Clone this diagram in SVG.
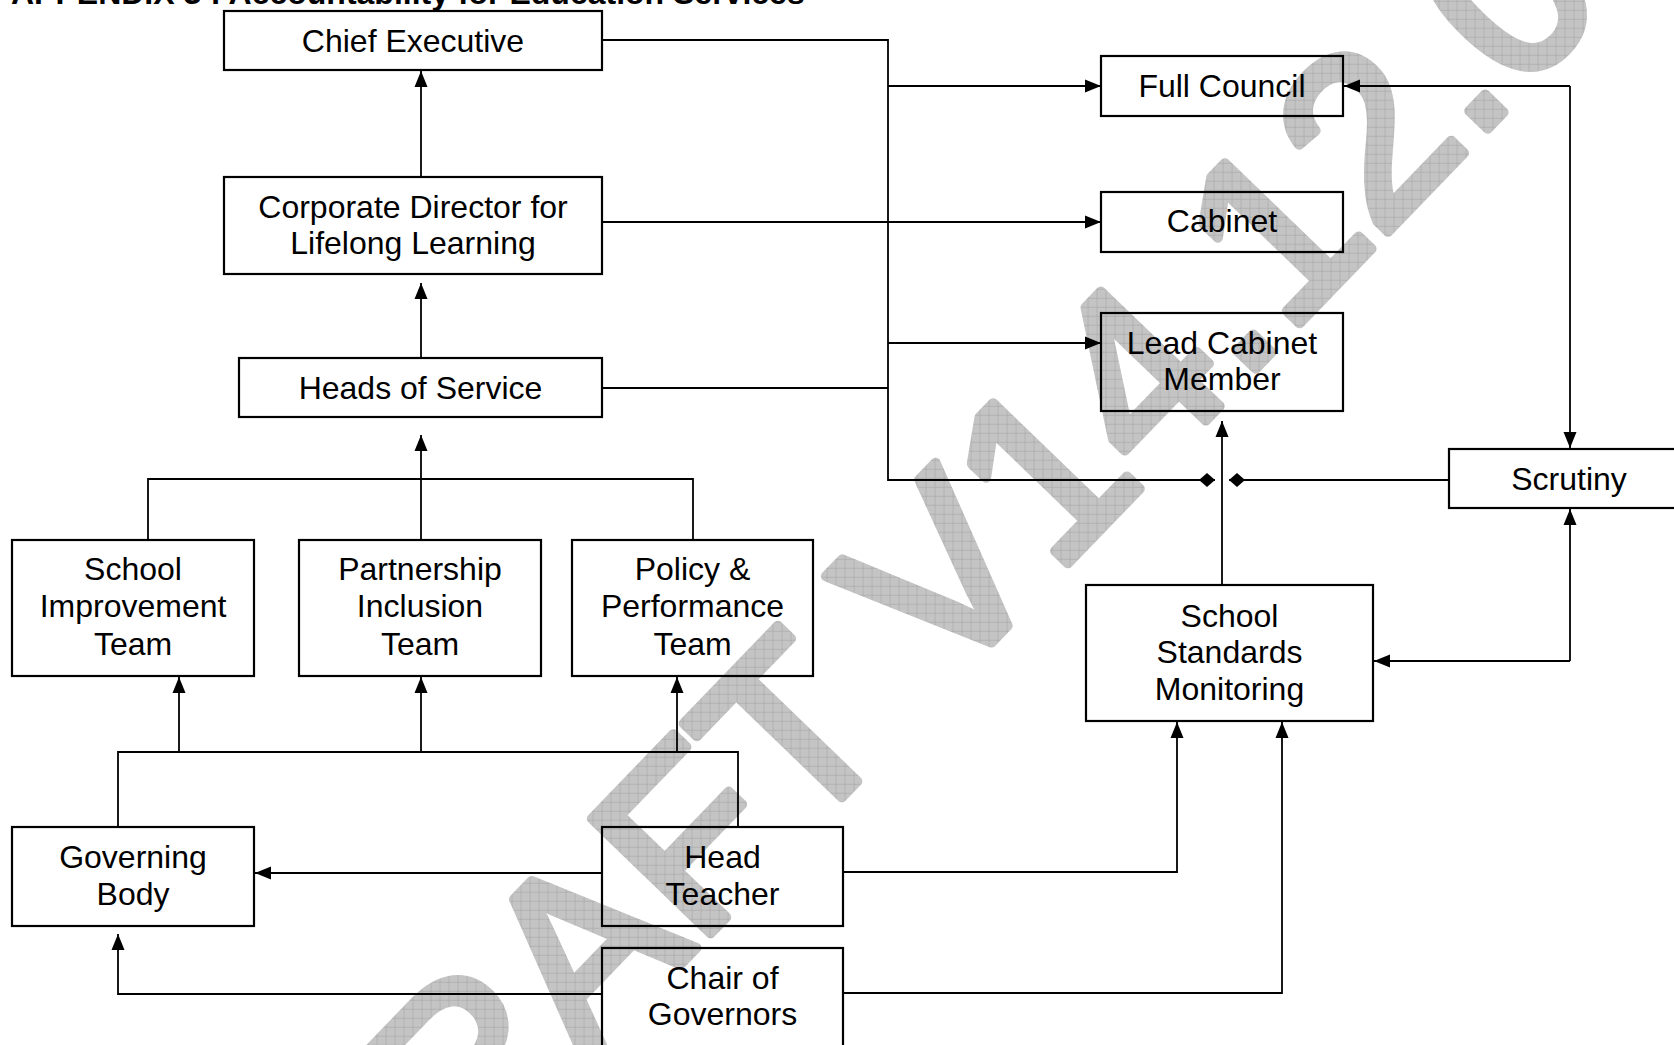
<svg xmlns="http://www.w3.org/2000/svg" width="1674" height="1045" viewBox="0 0 1674 1045">
<style>
.box{fill:none;stroke:#000;stroke-width:2.2}
.t{font-family:"Liberation Sans",Arial,sans-serif;font-size:32px;fill:#000;text-anchor:middle}
.title{font-family:"Liberation Sans",Arial,sans-serif;font-size:32px;font-weight:bold;fill:#000}
.c{fill:none;stroke:#000;stroke-width:1.8}
.wm{font-family:"Liberation Sans",Arial,sans-serif;font-size:240px;fill:url(#grid);stroke:url(#grid);stroke-width:10;stroke-linejoin:round}
</style>
<defs>
<pattern id="grid" patternUnits="userSpaceOnUse" width="9" height="9" patternTransform="rotate(46)">
<rect width="9" height="9" fill="#c4c4c4"/>
<path d="M0 0.3H9M0.3 0V9" stroke="#a2a2a2" stroke-width="0.7"/>
</pattern>
<marker id="arr" markerUnits="userSpaceOnUse" markerWidth="16" markerHeight="14" viewBox="0 0 16 14" refX="16" refY="7" orient="auto">
<path d="M0 0.5L16 7L0 13.5Z" fill="#000"/>
</marker>
<marker id="dia" markerUnits="userSpaceOnUse" markerWidth="16" markerHeight="16" viewBox="0 0 16 16" refX="16" refY="8" orient="auto">
<path d="M0 8L8 1L16 8L8 15Z" fill="#000"/>
</marker>
</defs>
<rect width="1674" height="1045" fill="#fff"/>
<g id="watermark">
<text class="wm" x="345" y="1312" transform="rotate(-46 345 1312)">DRAFT V14.12.0</text>
</g>
<text class="title" x="11" y="4">APPENDIX 3 : Accountability for Education Services</text>
<g id="connectors">
<path class="c" d="M421 177V71" marker-end="url(#arr)"/>
<path class="c" d="M421 358V283" marker-end="url(#arr)"/>
<path class="c" d="M148 540V479H693V540"/>
<path class="c" d="M421 540V435" marker-end="url(#arr)"/>
<path class="c" d="M118 827V752H738V827"/>
<path class="c" d="M179 752V677" marker-end="url(#arr)"/>
<path class="c" d="M421 752V677" marker-end="url(#arr)"/>
<path class="c" d="M677 752V677" marker-end="url(#arr)"/>
<path class="c" d="M602 873H255" marker-end="url(#arr)"/>
<path class="c" d="M602 994H118V934" marker-end="url(#arr)"/>
<path class="c" d="M844 872H1177V722" marker-end="url(#arr)"/>
<path class="c" d="M844 993H1282V722" marker-end="url(#arr)"/>
<path class="c" d="M1222 585V421" marker-end="url(#arr)"/>
<path class="c" d="M1570 661V509" marker-end="url(#arr)"/>
<path class="c" d="M1570 661H1374" marker-end="url(#arr)"/>
<path class="c" d="M1570 86V448" marker-end="url(#arr)"/>
<path class="c" d="M1570 86H1344" marker-end="url(#arr)"/>
<path class="c" d="M1449 480H1229" marker-end="url(#dia)"/>
<path class="c" d="M602 40H888V480H1215" marker-end="url(#dia)"/>
<path class="c" d="M888 86H1101" marker-end="url(#arr)"/>
<path class="c" d="M602 222H1101" marker-end="url(#arr)"/>
<path class="c" d="M888 343H1101" marker-end="url(#arr)"/>
<path class="c" d="M602 388H888"/>
</g>
<g id="n-chief-executive"><rect class="box" x="224" y="11" width="378" height="59"/><text class="t" x="413" y="52">Chief Executive</text></g>
<g id="n-corporate-director"><rect class="box" x="224" y="177" width="378" height="97"/><text class="t" x="413" y="218">Corporate Director for</text><text class="t" x="413" y="254">Lifelong Learning</text></g>
<g id="n-heads-of-service"><rect class="box" x="239" y="358" width="363" height="59"/><text class="t" x="420.5" y="399">Heads of Service</text></g>
<g id="n-school-improvement"><rect class="box" x="12" y="540" width="242" height="136"/><text class="t" x="133" y="580">School</text><text class="t" x="133" y="617">Improvement</text><text class="t" x="133" y="655">Team</text></g>
<g id="n-partnership-inclusion"><rect class="box" x="299" y="540" width="242" height="136"/><text class="t" x="420" y="580">Partnership</text><text class="t" x="420" y="617">Inclusion</text><text class="t" x="420" y="655">Team</text></g>
<g id="n-policy-performance"><rect class="box" x="572" y="540" width="241" height="136"/><text class="t" x="692.5" y="580">Policy &amp;</text><text class="t" x="692.5" y="617">Performance</text><text class="t" x="692.5" y="655">Team</text></g>
<g id="n-governing-body"><rect class="box" x="12" y="827" width="242" height="99"/><text class="t" x="133" y="868">Governing</text><text class="t" x="133" y="905">Body</text></g>
<g id="n-head-teacher"><rect class="box" x="602" y="827" width="241" height="99"/><text class="t" x="722.5" y="868">Head</text><text class="t" x="722.5" y="905">Teacher</text></g>
<g id="n-chair-of-governors"><rect class="box" x="602" y="948" width="241" height="110"/><text class="t" x="722.5" y="989">Chair of</text><text class="t" x="722.5" y="1025">Governors</text></g>
<g id="n-full-council"><rect class="box" x="1101" y="56" width="242" height="60"/><text class="t" x="1222" y="97">Full Council</text></g>
<g id="n-cabinet"><rect class="box" x="1101" y="192" width="242" height="60"/><text class="t" x="1222" y="232">Cabinet</text></g>
<g id="n-lead-cabinet-member"><rect class="box" x="1101" y="313" width="242" height="98"/><text class="t" x="1222" y="354">Lead Cabinet</text><text class="t" x="1222" y="390">Member</text></g>
<g id="n-scrutiny"><rect class="box" x="1449" y="449" width="240" height="59"/><text class="t" x="1569" y="490">Scrutiny</text></g>
<g id="n-school-standards"><rect class="box" x="1086" y="585" width="287" height="136"/><text class="t" x="1229.5" y="627">School</text><text class="t" x="1229.5" y="663">Standards</text><text class="t" x="1229.5" y="700">Monitoring</text></g>
</svg>
